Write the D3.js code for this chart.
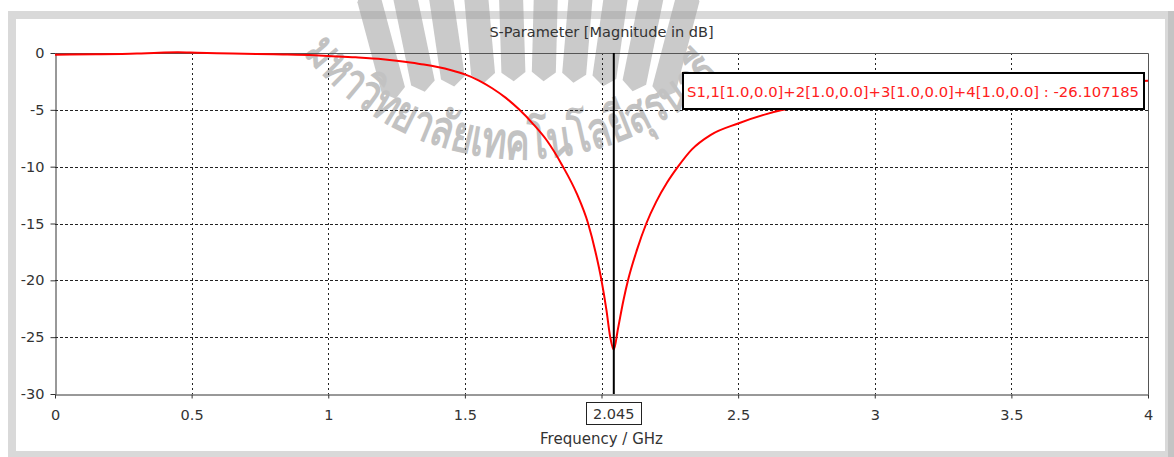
<!DOCTYPE html>
<html>
<head>
<meta charset="utf-8">
<script src="https://cdn.jsdelivr.net/npm/d3@7"></script>
<style>
  html, body { margin: 0; padding: 0; background: #fff; }
  svg { display: block; }
  text { font-family: "DejaVu Sans", Verdana, sans-serif; }
</style>
</head>
<body>
<svg id="chart" width="1174" height="457"></svg>
<script>
// S11 magnitude sweep (GHz, dB)
const freq = [0, 0.15, 0.3, 0.38, 0.45, 0.52, 0.65, 0.8, 0.95, 1.0, 1.1, 1.2, 1.25, 1.3, 1.35, 1.4,
  1.45, 1.5, 1.55, 1.6, 1.65, 1.7, 1.75, 1.8, 1.859, 1.91, 1.951, 1.978, 2.0, 2.018, 2.032, 2.045,
  2.06, 2.08, 2.097, 2.13, 2.164, 2.2, 2.24, 2.28, 2.33, 2.4, 2.5, 2.6, 2.664, 2.8, 3.0,
  3.25, 3.5, 3.75, 4.0];
const s11dB = [-0.15, -0.12, -0.05, 0.03, 0.06, 0.02, -0.04, -0.12, -0.2, -0.26, -0.38, -0.55,
  -0.68, -0.84, -1.02, -1.24, -1.52, -1.88, -2.4, -3.1, -3.95, -5.0, -6.25, -7.7, -10.0, -12.4,
  -15.0, -17.5, -20.0, -22.6, -25.0, -26.107185,
  -24.3, -21.8, -20.0, -17.3, -15.0, -13.1, -11.4, -10.0, -8.5, -7.2, -6.2, -5.4, -5.0,
  -4.45, -3.85, -3.35, -3.0, -2.7, -2.45];

const xTicks = [0, 0.5, 1, 1.5, 2, 2.5, 3, 3.5, 4];
const xTickLabels = ["0", "0.5", "1", "1.5", "2", "2.5", "3", "3.5", "4"];
const yTicks = [0, -5, -10, -15, -20, -25, -30];
const yTickLabels = ["0", "-5", "-10", "-15", "-20", "-25", "-30"];

const markerFreq = 2.045;
const markerLabel = "2.045";
const markerValue = -26.107185;
const seriesName = "S1,1[1.0,0.0]+2[1.0,0.0]+3[1.0,0.0]+4[1.0,0.0]";
const chartTitle = "S-Parameter [Magnitude in dB]";
const xTitle = "Frequency / GHz";
const watermarkText = "มหาวิทยาลัยเทคโนโลยีสุรนารี";

const svg = d3.select("#chart");
const W = 1174, H = 457;

const x = d3.scaleLinear().domain([0, 4]).range([55, 1148]);
const y = d3.scaleLinear().domain([-30, 0]).range([394, 53]);
const px = v => Math.round(v) + 0.5;

// window frame
svg.append("rect").attr("x", 8).attr("y", 11).attr("width", W - 8).attr("height", H - 11).attr("fill", "#d9d9d9");
svg.append("rect").attr("x", 1168).attr("y", 11).attr("width", 6).attr("height", H - 11).attr("fill", "#c4c4c4");
svg.append("rect").attr("x", 16).attr("y", 19).attr("width", 1149).attr("height", 432).attr("fill", "#fff");

// faint emblem + arched name behind the plot
const wm = svg.append("g").attr("opacity", 0.52);
const fanCx = 530, fanCy = 600, rIn = 528, rOut = 640;
d3.range(-15, 16, 3.3).forEach(a => {
  const g = wm.append("g").attr("transform", `rotate(${a},${fanCx},${fanCy})`);
  const hw = 12;
  g.append("path")
    .attr("d", `M${fanCx - hw},${fanCy - rIn} L${fanCx},${fanCy - rIn + 9} L${fanCx + hw},${fanCy - rIn}
      L${fanCx + hw},${fanCy - rOut + 18} L${fanCx},${fanCy - rOut} L${fanCx - hw},${fanCy - rOut + 18} Z`)
    .attr("fill", "#9a9a9a");
});
const acx = 522, acy = -118, ar = 277;
const pt = deg => [acx + ar * Math.sin(deg * Math.PI / 180), acy + ar * Math.cos(deg * Math.PI / 180)];
const a0 = -52, a1 = 46;
const p0 = pt(a0), p1 = pt(a1);
svg.append("defs").append("path").attr("id", "wmArc")
  .attr("d", `M${p0[0]},${p0[1]} A${ar},${ar} 0 0 0 ${p1[0]},${p1[1]}`);
wm.append("text")
  .attr("font-family", "'Noto Sans Thai', 'Noto Sans', 'DejaVu Sans', sans-serif")
  .attr("font-size", 50).attr("font-weight", "bold").attr("fill", "#8c8c8c")
  .append("textPath").attr("href", "#wmArc").attr("startOffset", 0)
  .attr("textLength", ar * (a1 - a0) * Math.PI / 180).attr("lengthAdjust", "spacingAndGlyphs")
  .text(watermarkText);

// grid
const grid = svg.append("g");
grid.selectAll("line.h").data(yTicks.filter(v => v !== 0 && v !== -30)).join("line")
  .attr("x1", x(0)).attr("x2", x(4)).attr("y1", d => px(y(d))).attr("y2", d => px(y(d)))
  .attr("stroke", "#222").attr("stroke-dasharray", "3,2");
grid.selectAll("line.v").data(xTicks.filter(v => v !== 0 && v !== 4)).join("line")
  .attr("y1", y(0)).attr("y2", y(-30)).attr("x1", d => px(x(d))).attr("x2", d => px(x(d)))
  .attr("stroke", "#222").attr("stroke-dasharray", "2,3");

// plot border (top / right)
svg.append("path")
  .attr("d", `M${px(x(0))},${px(y(0))} H${px(x(4))} V${px(y(-30))}`)
  .attr("fill", "none").attr("stroke", "#555");

// axes; the tick label sitting under the marker box is left blank
const mx = x(markerFreq);
const yAxis = d3.axisLeft(y).tickValues(yTicks).tickFormat((d, i) => yTickLabels[i])
  .tickSize(5).tickSizeOuter(0).tickPadding(6);
const gy = svg.append("g").attr("transform", `translate(${px(x(0))},0)`).call(yAxis);
const xAxis = d3.axisBottom(x).tickValues(xTicks)
  .tickFormat((d, i) => Math.abs(x(d) - mx) < 32 ? "" : xTickLabels[i])
  .tickSize(4).tickSizeOuter(0).tickPadding(11);
const gx = svg.append("g").attr("transform", `translate(0,${px(y(-30))})`).call(xAxis);
[gx, gy].forEach(g => {
  g.select(".domain").attr("stroke", "#333");
  g.selectAll(".tick line").attr("stroke", "#333");
  g.selectAll(".tick text").attr("font-size", 14.5).attr("fill", "#333")
    .attr("font-family", "'DejaVu Sans', sans-serif");
});

// title and axis caption
svg.append("text").attr("x", (x(0) + x(4)) / 2).attr("y", 37).attr("text-anchor", "middle")
  .attr("font-size", 14.5).attr("fill", "#333").text(chartTitle);
svg.append("text").attr("x", (x(0) + x(4)) / 2).attr("y", 444).attr("text-anchor", "middle")
  .attr("font-size", 15).attr("fill", "#333").text(xTitle);

// S11 trace
const pts = freq.map((f, i) => [f, s11dB[i]]);
svg.append("path").datum(pts)
  .attr("d", d3.line().x(d => x(d[0])).y(d => y(d[1])).curve(d3.curveMonotoneX))
  .attr("fill", "none").attr("stroke", "#ff0000").attr("stroke-width", 2);

// marker line at the resonance
svg.append("line").attr("x1", mx).attr("x2", mx)
  .attr("y1", y(0)).attr("y2", y(-30)).attr("stroke", "#000").attr("stroke-width", 2);

// marker value box on the frequency axis
const mb = svg.append("g");
mb.append("rect").attr("x", px(mx - 27.5)).attr("y", 402.5).attr("width", 55).attr("height", 22)
  .attr("fill", "#fff").attr("stroke", "#222");
mb.append("text").attr("x", mx).attr("y", 419).attr("text-anchor", "middle")
  .attr("font-size", 14.5).attr("fill", "#333").text(markerLabel);

// marker readout
const lg = svg.append("g");
lg.append("rect").attr("x", 683).attr("y", 73).attr("width", 461).attr("height", 36)
  .attr("fill", "#fff").attr("stroke", "#000").attr("stroke-width", 2);
lg.append("text").attr("x", 687).attr("y", 97).attr("font-size", 14.5).attr("fill", "#ff2020")
  .attr("textLength", 452).attr("lengthAdjust", "spacingAndGlyphs")
  .text(`${seriesName} : ${markerValue.toFixed(6)}`);
</script>
</body>
</html>
